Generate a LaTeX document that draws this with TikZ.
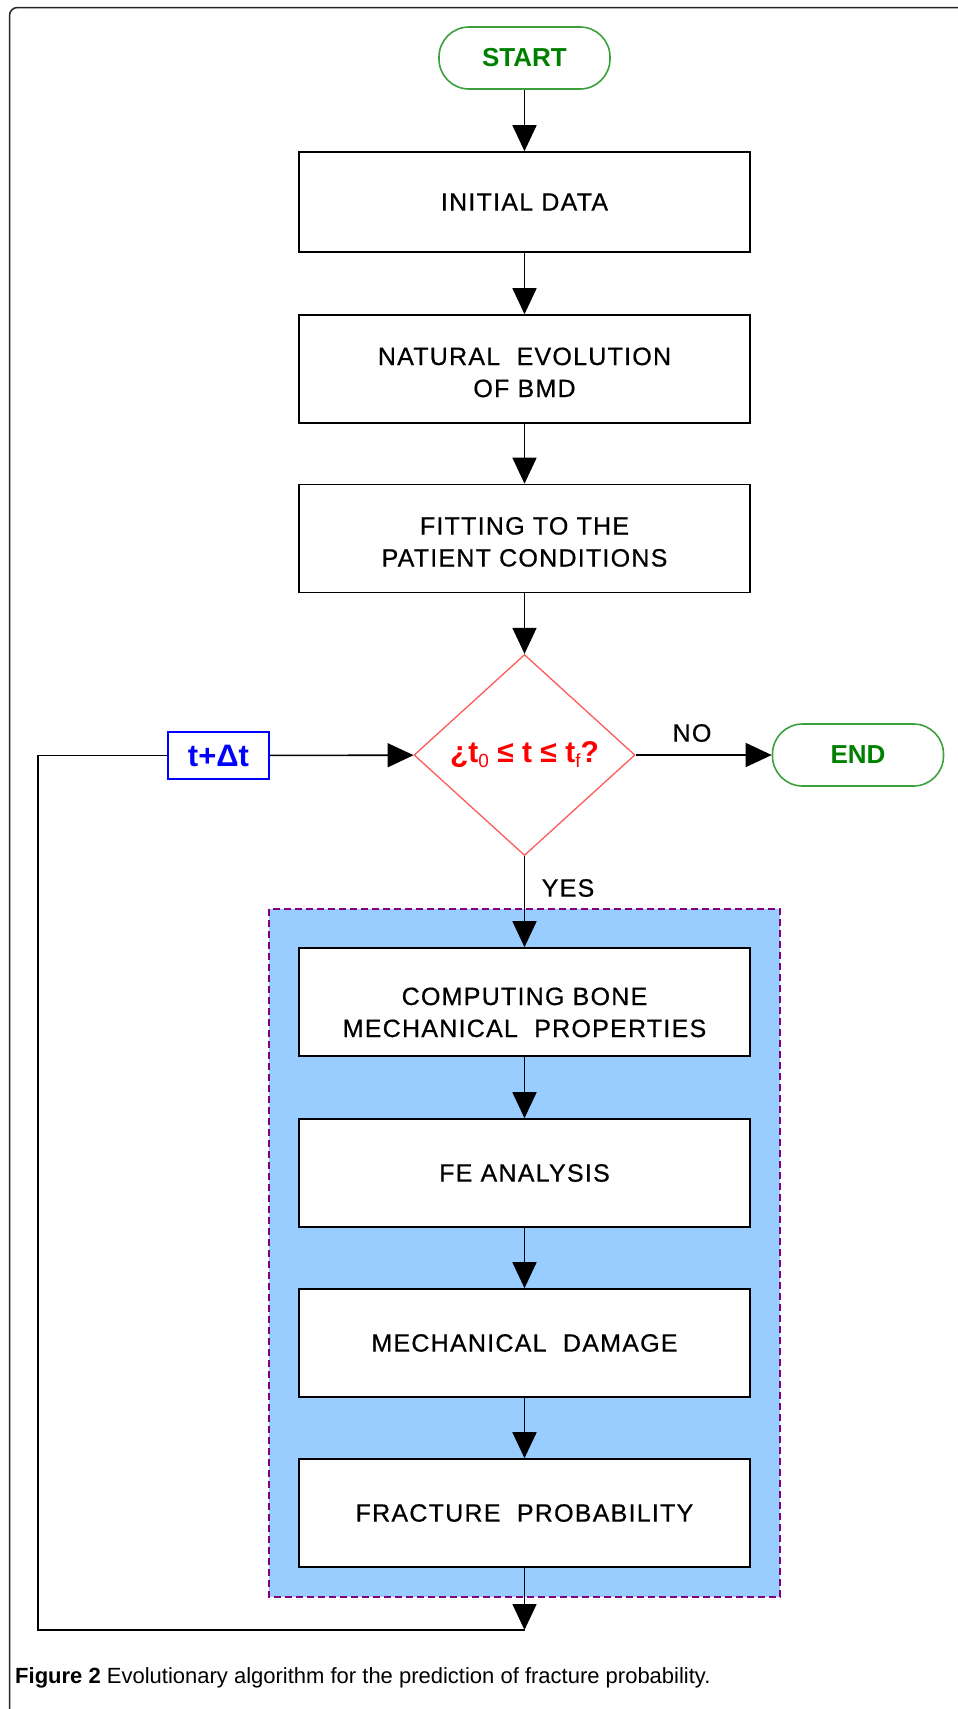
\documentclass[tikz,border=0pt]{standalone}
\usepackage{fontspec}
\setmainfont{Liberation Sans}
\newfontfamily\boxfont[LetterSpace=5,FakeBold=0.6]{Liberation Sans}
\usepackage{tikz}
\usetikzlibrary{arrows.meta,shapes.geometric}

\definecolor{termgreen}{RGB}{60,160,60}
\definecolor{termtext}{RGB}{0,128,0}
\definecolor{loopblue}{RGB}{153,204,255}
\definecolor{loopframe}{RGB}{128,0,128}
\definecolor{decred}{RGB}{255,90,90}

\begin{document}
\begin{tikzpicture}[x=1pt,y=-1pt,
  every node/.style={inner sep=0pt},
  stepbox/.style={draw,line width=1.6pt,fill=white,minimum width=451pt,
    minimum height=108pt,align=center,font=\boxfont\fontsize{25}{32}\selectfont},
  twoline/.style={text height=#1,text depth=0pt},
  terminal/.style={draw=termgreen,line width=1.6pt,rounded corners=30pt,
    minimum width=171pt,minimum height=62pt,text=termtext,
    font=\bfseries\fontsize{26}{30}\selectfont},
  flow/.style={line width=1.6pt,-{Triangle[length=26pt,width=24pt]}},
  lbl/.style={font=\boxfont\fontsize{25}{30}\selectfont}
]

% Page and frame
\useasboundingbox (0,0) rectangle (958,1709);
\draw[line width=1.5pt,black!85,rounded corners=8pt] (9.5,1709) |- (958,7.5);

% Time loop region
\draw[fill=loopblue,draw=loopframe,line width=1.5pt,dash pattern=on 7pt off 4pt]
  (269,909) rectangle (780,1597);

% Start and preprocessing
\node[terminal] (start) at (524.5,58) {START};
\node[stepbox,minimum height=100pt] (init) at (524.5,202) {INITIAL DATA};
\node[stepbox,twoline=56pt] (natural) at (524.5,369) {NATURAL\ \ EVOLUTION\\OF BMD};
\node[stepbox,twoline=56pt] (fitting) at (524.5,538.5) {FITTING TO THE\\PATIENT CONDITIONS};

% Time check
\node[diamond,draw=decred,line width=1.3pt,aspect=1,minimum width=221pt,
  minimum height=201pt,text=red,font=\bfseries\fontsize{30}{34}\selectfont]
  (dec) at (524.5,755) {¿t\raisebox{-0.3ex}{\mdseries\fontsize{19}{19}\selectfont 0}
  ≤ t ≤ t\raisebox{-0.3ex}{\mdseries\fontsize{19}{19}\selectfont f}?};
\node[terminal] (endnode) at (858,755) {END};
\node[draw=blue,line width=1.6pt,minimum width=101pt,minimum height=47pt,
  text=blue,font=\bfseries\fontsize{31}{34}\selectfont] (tdt) at (218.5,755.5) {t+Δt};

% Loop body
\node[stepbox,twoline=70pt] (comp) at (524.5,1002) {COMPUTING BONE\\MECHANICAL\ \ PROPERTIES};
\node[stepbox] (fe) at (524.5,1173) {FE ANALYSIS};
\node[stepbox] (mech) at (524.5,1343) {MECHANICAL\ \ DAMAGE};
\node[stepbox] (fract) at (524.5,1513) {FRACTURE\ \ PROBABILITY};

\coordinate (loopend) at (524.5,1630);
\coordinate (loopcorner) at (38,1630);

% Connectors
\draw[flow] (start) -- (init);
\draw[flow] (init) -- (natural);
\draw[flow] (natural) -- (fitting);
\draw[flow] (fitting) -- (dec);
\draw[flow] (dec) -- (endnode);
\draw[flow] (dec) -- (comp);
\draw[flow] (comp) -- (fe);
\draw[flow] (fe) -- (mech);
\draw[flow] (mech) -- (fract);
\draw[flow] (fract) -- (loopend);
\draw[line width=1.6pt] (loopend) -- (loopcorner) |- (tdt);
\draw[flow] (tdt) -- (dec);

% Branch labels
\node[lbl] (nolbl) at (692,733) {NO};
\node[lbl] (yeslbl) at (568,888) {YES};

% Caption
\node[anchor=base west,font=\fontsize{22}{26}\selectfont] (caption) at (15,1683)
  {\textbf{Figure 2} Evolutionary algorithm for the prediction of fracture probability.};

\end{tikzpicture}
\end{document}
